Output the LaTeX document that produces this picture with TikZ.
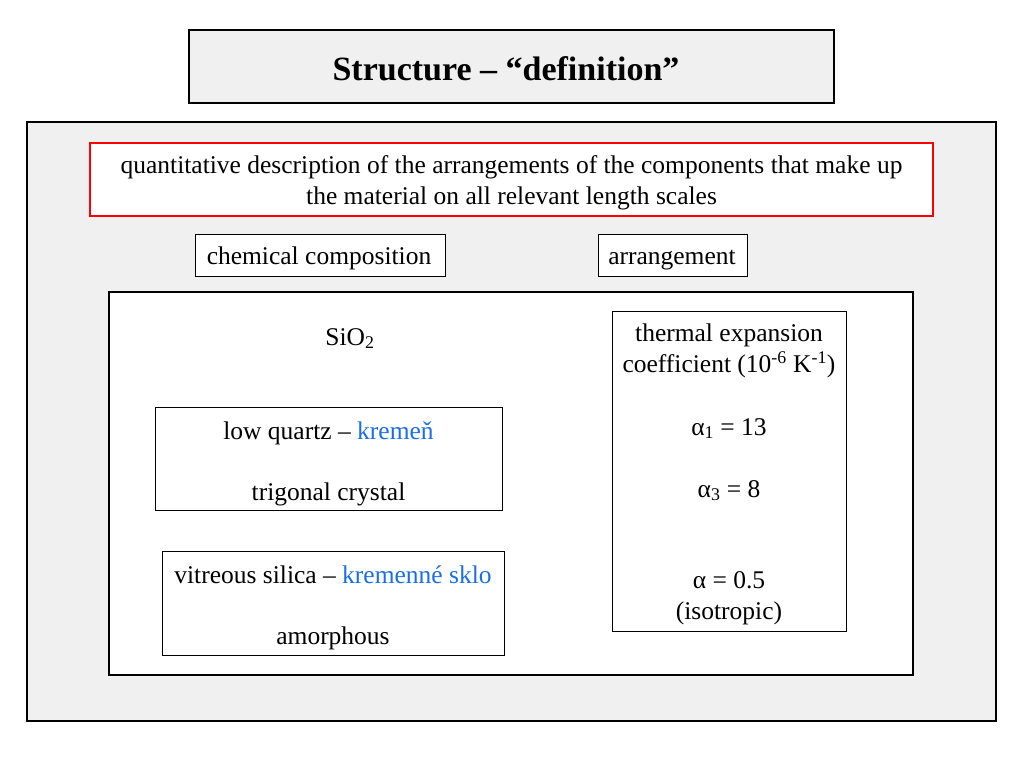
\documentclass[tikz,border=0pt]{standalone}
\usepackage{fontspec}
\setmainfont{Liberation Serif}
\definecolor{bg}{HTML}{F0F0F0}
\definecolor{blu}{HTML}{1A6FE8}
\begin{document}
\begin{tikzpicture}[x=1pt,y=-1pt,
  txt/.style={font=\fontsize{25.5}{30.5}\selectfont, inner sep=0pt, align=center},
  bl/.style={txt, anchor=base},
  thin box/.style={draw=black, line width=0.8pt, fill=white}]
\useasboundingbox (0,0) rectangle (1024,768);
\fill[white] (0,0) rectangle (1024,768);
\draw[line width=2.5pt, fill=bg] (189,30) rectangle (834,103);
\node[txt, font=\fontsize{34}{40}\selectfont\bfseries, anchor=base] (title) at (506,80) {Structure – “definition”};
\draw[line width=1.8pt, fill=bg] (27,122) rectangle (996,721);
\draw[line width=1.8pt, draw=red, fill=white] (90,143) rectangle (933,216);
\node[txt] (def) at (511.5,183) {quantitative description of the arrangements of the components that make up\\the material on all relevant length scales};
\draw[thin box] (195,234) rectangle (445,276);
\node[bl] (chem) at (319,264) {chemical composition};
\draw[thin box] (598,234) rectangle (747,276);
\node[bl] (arr) at (672,264) {arrangement};
\draw[line width=2.5pt, fill=white] (109,292) rectangle (913,675);
\node[bl] (sio) at (350,345) {SiO\textsubscript{2}};
\draw[thin box] (155,407) rectangle (502,510);
\node[bl] (lq) at (328.5,439) {low quartz – \textcolor{blu}{kremeň}};
\node[bl] (tc) at (328.5,500) {trigonal crystal};
\draw[thin box] (162,551) rectangle (504,655);
\node[bl] (vs) at (333,583) {vitreous silica – \textcolor{blu}{kremenné sklo}};
\node[bl] (am) at (333,644) {amorphous};
\draw[thin box] (612,311) rectangle (846,631);
\node[txt] (te) at (729,351) {thermal expansion\\coefficient (10\textsuperscript{-6} K\textsuperscript{-1})};
\node[bl] (a1) at (729,435) {α\textsubscript{1} = 13};
\node[bl] (a3) at (729,497) {α\textsubscript{3} = 8};
\node[txt] (a) at (729,598) {α = 0.5\\(isotropic)};
\end{tikzpicture}
\end{document}
